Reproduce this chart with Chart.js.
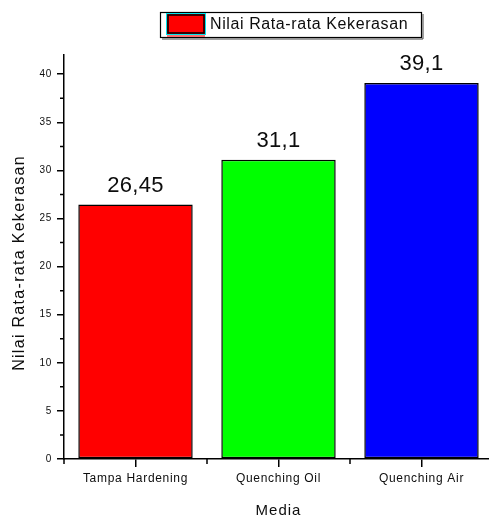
<!DOCTYPE html>
<html>
<head>
<meta charset="utf-8">
<script src="https://cdn.jsdelivr.net/npm/chart.js@4.4.1/dist/chart.umd.min.js"></script>
<style>
  html, body { margin: 0; padding: 0; background: #ffffff; overflow: hidden; }
  #wrap { width: 493px; height: 519px; }
</style>
</head>
<body>
<div id="wrap"><canvas id="chart" width="493" height="519"></canvas></div>
<script>
// Hardness per treatment medium
const categories = ['Tampa Hardening', 'Quenching Oil', 'Quenching Air'];
const hardness = [26.45, 31.1, 39.1];
const barColors = ['#ff0000', '#00ff00', '#0000ff'];
const yTicks = [0, 5, 10, 15, 20, 25, 30, 35, 40];
const yMinorTicks = [2.5, 7.5, 12.5, 17.5, 22.5, 27.5, 32.5, 37.5];
const seriesName = 'Nilai Rata-rata Kekerasan';
const xTitle = 'Media';
const yTitle = 'Nilai Rata-rata Kekerasan';

const FONT = "'Liberation Sans', Arial, sans-serif";
const INK = '#0d0d0d';

// Decimal comma for the value labels
const fmt = v => String(v).replace('.', ',');

const decorations = {
  id: 'decorations',
  beforeDraw(chart) {
    chart.ctx.letterSpacing = '0.7px';
  },
  afterDatasetsDraw(chart) {
    const ctx = chart.ctx;
    const meta = chart.getDatasetMeta(0);
    ctx.save();
    ctx.letterSpacing = '0.3px';
    ctx.font = '22px ' + FONT;
    ctx.fillStyle = INK;
    ctx.textAlign = 'center';
    ctx.textBaseline = 'alphabetic';
    meta.data.forEach((bar, i) => {
      ctx.fillText(fmt(hardness[i]), bar.x, bar.y - 13);
    });
    ctx.restore();
  },
  afterDraw(chart) {
    const ctx = chart.ctx;
    const xs = chart.scales.x, ys = chart.scales.y;
    const area = chart.chartArea;
    ctx.save();
    ctx.strokeStyle = '#000';
    ctx.lineWidth = 1.5;
    ctx.beginPath();
    // minor ticks on the value axis
    yMinorTicks.forEach(v => {
      const y = ys.getPixelForValue(v);
      ctx.moveTo(area.left - 4, y);
      ctx.lineTo(area.left, y);
    });
    // minor ticks between categories on the category axis
    const edges = [area.left];
    for (let i = 0; i < categories.length - 1; i++) {
      edges.push((xs.getPixelForValue(i) + xs.getPixelForValue(i + 1)) / 2);
    }
    edges.forEach(x => {
      ctx.moveTo(x, area.bottom);
      ctx.lineTo(x, area.bottom + 5);
    });
    // value axis runs a little past the origin
    ctx.moveTo(area.left, area.bottom);
    ctx.lineTo(area.left, area.bottom + 4);
    ctx.stroke();

    // axis titles
    ctx.fillStyle = INK;
    ctx.font = '15px ' + FONT;
    ctx.letterSpacing = '1px';
    ctx.textAlign = 'center';
    ctx.textBaseline = 'alphabetic';
    ctx.fillText(xTitle, (area.left + area.right) / 2, 515);

    ctx.save();
    ctx.font = '16px ' + FONT;
    ctx.letterSpacing = '1.3px';
    ctx.translate(20, (area.top + area.bottom) / 2 + 6);
    ctx.rotate(-Math.PI / 2);
    ctx.textBaseline = 'middle';
    ctx.fillText(yTitle, 0, 0);
    ctx.restore();

    // legend box
    const lx = 160, ly = 12, lw = 261, lh = 25;
    ctx.fillStyle = '#ffffff';
    ctx.fillRect(lx, ly, lw, lh);
    ctx.strokeStyle = '#000';
    ctx.lineWidth = 1.2;
    ctx.strokeRect(lx + 0.5, ly + 0.5, lw, lh);
    ctx.lineWidth = 1;
    ctx.beginPath();
    ctx.moveTo(lx + lw + 2, ly + 2);
    ctx.lineTo(lx + lw + 2, ly + lh + 2);
    ctx.lineTo(lx + 2, ly + lh + 2);
    ctx.strokeStyle = '#444';
    ctx.stroke();
    // swatch
    ctx.fillStyle = barColors[0];
    ctx.fillRect(167, 14, 38, 20);
    ctx.strokeStyle = '#00e5ee';
    ctx.lineWidth = 1;
    ctx.strokeRect(166.5, 13.5, 39, 21);
    ctx.strokeStyle = '#000';
    ctx.lineWidth = 1.5;
    ctx.strokeRect(168, 15, 36, 18);
    ctx.strokeStyle = '#ff4040';
    ctx.lineWidth = 1.5;
    ctx.beginPath();
    ctx.moveTo(167, 36); ctx.lineTo(205, 36);
    ctx.stroke();
    // legend text
    ctx.fillStyle = INK;
    ctx.font = '16px ' + FONT;
    ctx.letterSpacing = '0.6px';
    ctx.textAlign = 'left';
    ctx.fillText(seriesName, 210, 29);
    ctx.restore();
    ctx.letterSpacing = '0px';
  }
};

new Chart(document.getElementById('chart'), {
  type: 'bar',
  data: {
    labels: categories,
    datasets: [{
      label: seriesName,
      data: hardness,
      backgroundColor: barColors,
      borderColor: '#000',
      borderWidth: 1.5,
      borderSkipped: false,
      barPercentage: 0.8,
      categoryPercentage: 1.0
    }]
  },
  options: {
    responsive: false,
    animation: false,
    devicePixelRatio: 1,
    layout: { padding: { top: 55, right: 0, left: 0, bottom: 0 } },
    plugins: {
      legend: { display: false },
      tooltip: { enabled: false }
    },
    scales: {
      x: {
        offset: true,
        grid: {
          offset: false,
          drawOnChartArea: false,
          drawTicks: true,
          tickLength: 8,
          color: '#000',
          lineWidth: 1.5
        },
        border: { display: true, color: '#000', width: 1.5 },
        ticks: {
          color: INK,
          font: { family: FONT, size: 12 },
          padding: 4,
          maxRotation: 0,
          autoSkip: false
        },
        afterFit(scale) { scale.height = 60; }
      },
      y: {
        min: 0,
        max: 42,
        afterBuildTicks(scale) {
          scale.ticks = yTicks.map(v => ({ value: v }));
        },
        grid: {
          drawOnChartArea: false,
          drawTicks: true,
          tickLength: 7,
          color: '#000',
          lineWidth: 1.5
        },
        border: { display: true, color: '#000', width: 1.5 },
        ticks: {
          color: INK,
          font: { family: FONT, size: 10 },
          padding: 5
        },
        afterFit(scale) { scale.width = 64; }
      }
    }
  },
  plugins: [decorations]
});
</script>
</body>
</html>
